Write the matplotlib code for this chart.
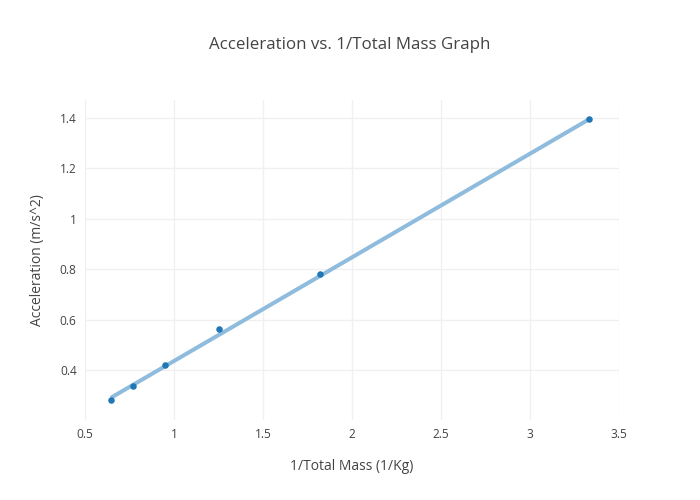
import matplotlib
matplotlib.use("Agg")
import matplotlib.pyplot as plt
import numpy as np
from matplotlib.ticker import FuncFormatter, MultipleLocator

inv_mass = [0.645, 0.769, 0.952, 1.25, 1.818, 3.333]
accel = [0.283, 0.335, 0.422, 0.562, 0.78, 1.395]
fit_x = [0.645, 3.333]
fit_y = [0.29, 1.395]

plt.rcParams['font.family'] = ['Open Sans', 'DejaVu Sans']

fig = plt.figure(figsize=(7, 5), dpi=100)
ax = fig.add_axes([85/700, 1-420/500, 534/700, 320/500])

ax.plot(fit_x, fit_y, color='#8fbcdd', lw=2.9, solid_capstyle='butt', zorder=2)
ax.scatter(inv_mass, accel, s=22, color='#1f77b4', zorder=3, linewidths=0)

ax.set_xlim(0.5, 3.5)
ax.set_ylim(0.202, 1.471)
ax.xaxis.set_major_locator(MultipleLocator(0.5))
ax.yaxis.set_major_locator(MultipleLocator(0.2))
fmt = FuncFormatter(lambda v, p: ('%g' % round(v, 3)))
ax.xaxis.set_major_formatter(fmt)
ax.yaxis.set_major_formatter(fmt)
ax.grid(True, color='#f0f0f0', lw=1)
ax.set_axisbelow(True)
for s in ax.spines.values():
    s.set_visible(False)
ax.tick_params(length=0, labelsize=8.6, colors='#444444', pad=6)

fig.text(0.5, 1-45/500, 'Acceleration vs. 1/Total Mass Graph', ha='center', va='center', fontsize=12.2, color='#444444')
fig.text(352/700, 1-467/500, '1/Total Mass (1/Kg)', ha='center', va='center', fontsize=10, color='#444444')
fig.text(38/700, 1-260/500, 'Acceleration (m/s^2)', ha='center', va='center', fontsize=10, color='#444444', rotation=90)

fig.savefig('out.png', dpi=100)
